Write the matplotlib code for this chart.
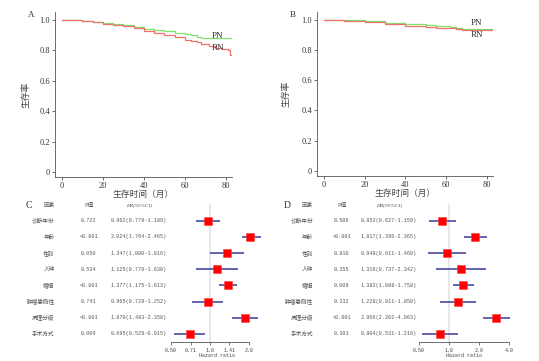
import numpy as np
import matplotlib.pyplot as plt
import matplotlib.transforms as mtransforms

plt.rcParams['font.family'] = ['Liberation Serif', 'Noto Sans CJK SC', 'DejaVu Sans']
CJK = ['Noto Sans CJK SC', 'DejaVu Sans']
MONO = ['Liberation Mono', 'Noto Sans CJK SC']

# --- survival curves ---
a_pn_t = [0, 5, 10, 15, 20, 25, 30, 35, 40, 45, 50, 55, 60, 63, 66, 68, 82.5]
a_pn_s = [1.0, 0.997, 0.992, 0.985, 0.978, 0.970, 0.962, 0.952, 0.940, 0.932, 0.924, 0.915, 0.908, 0.900, 0.888, 0.878, 0.878]
a_rn_t = [0, 5, 10, 15, 20, 25, 30, 35, 40, 45, 50, 55, 60, 63, 66, 68, 72, 75, 78, 81, 81.8, 82.5]
a_rn_s = [1.0, 0.996, 0.990, 0.983, 0.974, 0.966, 0.955, 0.942, 0.928, 0.915, 0.900, 0.885, 0.868, 0.860, 0.852, 0.840, 0.830, 0.815, 0.810, 0.800, 0.768, 0.768]
b_pn_t = [0, 10, 20, 30, 40, 50, 55, 60, 62, 65, 68, 82.5]
b_pn_s = [1.0, 0.995, 0.988, 0.978, 0.968, 0.962, 0.960, 0.955, 0.948, 0.942, 0.938, 0.938]
b_rn_t = [0, 10, 20, 30, 40, 50, 55, 60, 65, 68, 82.5]
b_rn_s = [1.0, 0.990, 0.982, 0.970, 0.958, 0.952, 0.945, 0.942, 0.935, 0.932, 0.932]

# --- forest plot tables ---
factors = ['诊断年份', '年龄', '性别', '人种', '婚姻', '肿瘤患侧性', '病理分级', '手术方式']
c_p = ['0.722', '<0.001', '0.050', '0.534', '<0.001', '0.741', '<0.001', '0.009']
c_hr = [0.962, 2.024, 1.347, 1.125, 1.377, 0.965, 1.870, 0.695]
c_lo = [0.779, 1.764, 1.000, 0.776, 1.175, 0.729, 1.483, 0.529]
c_hi = [1.189, 2.465, 1.816, 1.630, 1.613, 1.252, 2.358, 0.915]
d_p = ['0.506', '<0.001', '0.810', '0.355', '0.009', '0.332', '<0.001', '0.301']
d_hr = [0.852, 1.817, 0.948, 1.316, 1.382, 1.228, 2.966, 0.804]
d_lo = [0.627, 1.396, 0.611, 0.737, 1.088, 0.811, 2.202, 0.531]
d_hi = [1.159, 2.365, 1.460, 2.342, 1.758, 1.850, 4.063, 1.216]
c_ticks = [0.50, 0.71, 1.0, 1.41, 2.0]
c_ticklabels = ['0.50', '0.71', '1.0', '1.41', '2.0']
d_ticks = [0.50, 1.0, 2.0, 4.0]
d_ticklabels = ['0.50', '1.0', '2.0', '4.0']

W, H = 539, 361
fig = plt.figure(figsize=(W / 100, H / 100), dpi=100)


def px_axes(l, t, r, b):
    return fig.add_axes([l / W, 1 - b / H, (r - l) / W, (b - t) / H])


def km_panel(l, t, r, b, letter, pn, rn, pn_xy, rn_xy, ylab_x):
    ax = px_axes(l, t, r, b)
    ax.plot(pn[0], pn[1], drawstyle='steps-post', color='#7ee36a', lw=0.9)
    ax.plot(rn[0], rn[1], drawstyle='steps-post', color='#f07070', lw=0.9)
    ax.set_xlim(-3.4, 83)
    ax.set_ylim(-0.033, 1.05)
    ax.set_xticks([0, 20, 40, 60, 80])
    ax.set_yticks([0, 0.2, 0.4, 0.6, 0.8, 1.0])
    ax.set_yticklabels(['0', '0.2', '0.4', '0.6', '0.8', '1.0'])
    for s in ['top', 'right']:
        ax.spines[s].set_visible(False)
    for s in ['left', 'bottom']:
        ax.spines[s].set_linewidth(0.6)
        ax.spines[s].set_color('#555555')
    ax.tick_params(labelsize=6, length=2, width=0.5, pad=1.5, colors='#333333')
    ax.set_xlabel('生存时间（月）', family=CJK, fontsize=6.3, labelpad=0, color='#444444')
    ax.set_ylabel('生存率', family=CJK, fontsize=6.3, color='#444444')
    ax.yaxis.set_label_coords((ylab_x - l) / (r - l), 0.5)
    ax.text(pn_xy[0], pn_xy[1], 'PN', fontsize=6.5, color='#333333', ha='center', va='center')
    ax.text(rn_xy[0], rn_xy[1], 'RN', fontsize=6.5, color='#333333', ha='center', va='center')
    fig.text((l - 27) / W, 1 - (t + 3) / H, letter, fontsize=6.5, color='#333333', va='center')
    return ax


km_panel(55, 12, 232, 177, 'A', (a_pn_t, a_pn_s), (a_rn_t, a_rn_s), (76, 0.895), (76, 0.815), 30)
km_panel(317, 12, 493, 176, 'B', (b_pn_t, b_pn_s), (b_rn_t, b_rn_s), (75, 0.98), (75, 0.9), 291)


def forest_panel(l, r, xlim, ticks, ticklabels, letter, x_letter, x_fac, x_p, x_hr,
                 p_vals, hr, lo, hi):
    top, bottom = 204.5, 342
    ax = px_axes(l, top, r, bottom)
    n = len(hr)
    rows = np.arange(n)
    ax.set_xscale('log')
    ax.set_xlim(*xlim)
    ax.set_ylim(n - 0.5, -1)
    ax.axvline(1.0, color='#e3e3e3', lw=1.2, zorder=0)
    ax.hlines(rows, lo, hi, color='#3a3a9a', lw=1.1, zorder=2)
    ax.plot(hr, rows, 's', color='#ff0000', ms=5.5, mec='#ff4040', mew=0.4, zorder=3)
    for s in ['top', 'right', 'left']:
        ax.spines[s].set_visible(False)
    ax.spines['bottom'].set_bounds(ticks[0], ticks[-1])
    ax.spines['bottom'].set_linewidth(0.6)
    ax.spines['bottom'].set_color('#555555')
    ax.set_yticks([])
    ax.set_xticks(ticks)
    ax.set_xticklabels(ticklabels, family=MONO, fontsize=3.6)
    ax.minorticks_off()
    ax.tick_params(axis='x', length=2, width=0.5, pad=2, colors='#444444')
    ax.set_xlabel('Hazard ratio', family=MONO, fontsize=3.6, labelpad=0.5, color='#444444')

    tr = mtransforms.blended_transform_factory(fig.transFigure, ax.transData)
    hy = -0.95
    fig.text(x_letter / W, 1 - 205.5 / H, letter, fontsize=7, color='#333333', va='center')
    ax.text(x_fac / W, hy, '因素', transform=tr, family=CJK, fontsize=4.1, ha='right', va='center', color='#555555')
    ax.text(x_p / W, hy, 'P值', transform=tr, family=CJK, fontsize=4.1, ha='center', va='center',
            style='italic', color='#555555')
    ax.text(x_hr / W, hy, 'HR(95%CI)', transform=tr, fontsize=3.9, ha='center', va='center',
            style='italic', color='#555555')
    for i in range(n):
        ax.text(x_fac / W, i, factors[i], transform=tr, family=CJK, fontsize=4.1, ha='right',
                va='center', color='#555555')
        ax.text(x_p / W, i, p_vals[i], transform=tr, family=MONO, fontsize=3.7, ha='center',
                va='center', color='#555555')
        txt = '%.3f(%.3f-%.3f)' % (hr[i], lo[i], hi[i])
        ax.text(x_hr / W, i, txt, transform=tr, family=MONO, fontsize=3.7, ha='center',
                va='center', color='#555555')
    return ax


forest_panel(168.7, 266, (0.48, 2.7), c_ticks, c_ticklabels, 'C', 26, 54.5, 89, 139,
             c_p, c_hr, c_lo, c_hi)
forest_panel(417.2, 511.5, (0.48, 4.2), d_ticks, d_ticklabels, 'D', 284, 313, 342, 389,
             d_p, d_hr, d_lo, d_hi)

fig.savefig('out.png', dpi=100)
